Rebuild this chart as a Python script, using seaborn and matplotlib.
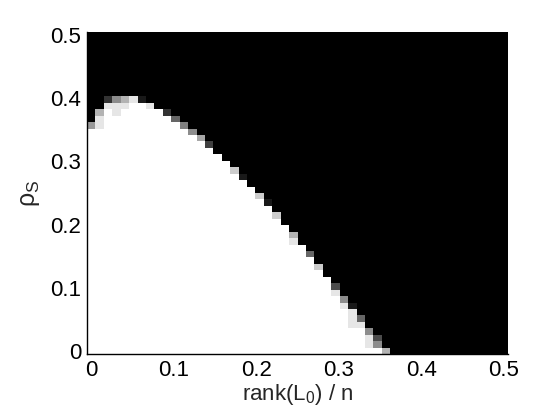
import numpy as np
import pandas as pd
import matplotlib
matplotlib.use("Agg")
import matplotlib.pyplot as plt
import seaborn as sns

# grid of the phase diagram (50 x 50 cells)
rank_ratio = np.linspace(0, 0.5, 50)   # rank(L0)/n, x
rho_s = np.linspace(0, 0.5, 50)        # rho_S, y

# number of fully white (success) cells counted from the bottom, per column
white_top = [35, 35, 38, 37, 38, 39, 39, 38, 38, 37,
             36, 35, 34, 33, 32, 31, 30, 28, 27, 26,
             24, 23, 21, 20, 17, 17, 15, 13, 12, 9,
             7, 4, 4, 1, 1, 0, 0, 0, 0, 0,
             0, 0, 0, 0, 0, 0, 0, 0, 0, 0]

# transition cells: (column, row, success fraction)
grey_cells = [(0, 35, 0.6), (1, 35, 0.9), (1, 36, 0.9), (1, 37, 0.7),
              (2, 38, 0.9), (2, 39, 0.2), (3, 37, 0.9), (3, 38, 0.9), (3, 39, 0.55),
              (4, 38, 0.9), (4, 39, 0.7), (5, 39, 0.9), (6, 39, 0.1), (7, 38, 0.9),
              (9, 37, 0.2), (10, 36, 0.4), (11, 35, 0.5), (12, 34, 0.55),
              (13, 33, 0.65), (14, 32, 0.25), (17, 28, 0.8), (18, 27, 0.1),
              (20, 24, 0.8), (21, 23, 0.1), (22, 21, 0.8), (24, 17, 0.9), (24, 18, 0.7),
              (26, 15, 0.4), (27, 13, 0.8), (29, 9, 0.9), (29, 10, 0.3),
              (30, 7, 0.9), (30, 8, 0.55), (31, 4, 0.9), (31, 5, 0.9), (31, 6, 0.9),
              (31, 7, 0.1), (32, 4, 0.9), (32, 5, 0.4), (33, 1, 0.9), (33, 2, 0.9),
              (33, 3, 0.55), (34, 1, 0.55), (34, 2, 0.3), (35, 0, 0.7)]

tick_vals = [0, 0.1, 0.2, 0.3, 0.4, 0.5]
tick_labels = ['0', '0.1', '0.2', '0.3', '0.4', '0.5']

# build success matrix: rows = rho_s, cols = rank_ratio
success = np.zeros((len(rho_s), len(rank_ratio)))
for j, h in enumerate(white_top):
    success[:h, j] = 1.0
for j, i, v in grey_cells:
    success[i, j] = v
df = pd.DataFrame(success, index=rho_s, columns=rank_ratio)

sns.set_style("white")
plt.rcParams['font.family'] = ['Liberation Sans', 'DejaVu Sans']
plt.rcParams['mathtext.fontset'] = 'custom'
plt.rcParams['mathtext.rm'] = 'Liberation Sans'
plt.rcParams['mathtext.it'] = 'Liberation Sans'

fig = plt.figure(figsize=(5.6, 4.2), dpi=100)
ax = fig.add_axes([0.1554, 0.157, 0.752, 0.767])
sns.heatmap(df, cmap='gray', vmin=0, vmax=1, cbar=False, ax=ax,
            xticklabels=False, yticklabels=False)
ax.invert_yaxis()

# ticks placed at the data values through the cell grid
xpos = np.interp(tick_vals, rank_ratio, np.arange(len(rank_ratio)) + 0.5)
ypos = np.interp(tick_vals, rho_s, np.arange(len(rho_s)) + 0.5)
ax.set_xticks(xpos)
ax.set_xticklabels(tick_labels, rotation=0)
ax.set_yticks(ypos)
ax.set_yticklabels(tick_labels, rotation=0)
ax.tick_params(direction='in', length=4, width=1, colors='black',
               labelsize=16, pad=4, bottom=True, left=True)

for side in ['left', 'bottom']:
    ax.spines[side].set_visible(True)
    ax.spines[side].set_color('black')
    ax.spines[side].set_linewidth(1)
for side in ['top', 'right']:
    ax.spines[side].set_visible(False)

ax.set_xlabel(r'rank(L$_0$) / n', fontsize=16, labelpad=1)
ax.set_ylabel(r'$\rho_\mathrm{S}$', fontsize=18, labelpad=6)

fig.savefig('out.png', dpi=100)
